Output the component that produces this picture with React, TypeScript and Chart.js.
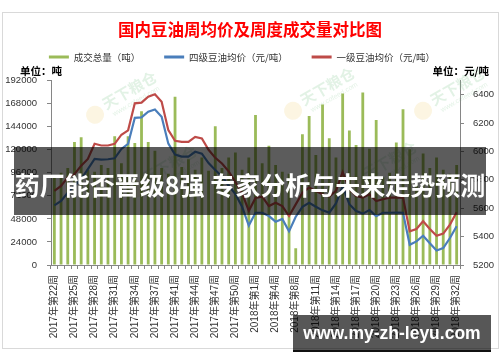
import React, { useEffect, useRef } from 'react';
import { Chart, registerables } from 'chart.js';

Chart.register(...registerables);

const weeks2017 = [22, 23, 24, 25, 26, 27, 28, 29, 30, 31, 32, 33, 34, 35, 36, 37, 38, 39, 41, 42, 43, 44, 45, 46, 47, 48, 49, 50, 51, 52];
const weeks2018 = [1, 2, 3, 4, 5, 6, 8, 9, 10, 11, 12, 13, 14, 15, 16, 17, 18, 19, 20, 21, 22, 23, 24, 25, 26, 27, 28, 29, 30, 31, 32];

const categories = [
  ...weeks2017.map((w) => `2017年第${w}周`),
  ...weeks2018.map((w) => `2018年第${w}周`),
];

// 成交总量（吨）
const volume = [
  92000, 96000, 101000, 128000, 133000, 99000, 97000, 104000, 101000, 134000,
  106000, 134000, 127000, 160000, 128000, 119000, 101000, 95000, 175000, 102000,
  110000, 99000, 112000, 98000, 144500, 101000, 112000, 117000, 99000, 112000,
  156000, 106000, 124000, 104000, 97000, 95000, 17500, 136000, 155000, 114400,
  167000, 132000, 112000, 178500, 140000, 125000, 179500, 121000, 151000, 91000,
  96000, 127500, 162000, 120500, 95000, 116000, 101000, 112000, 99000, 95000,
  104000,
];

// 四级豆油均价（元/吨）
const grade4 = [
  5620, 5651, 5710, 5757, 5805, 5876, 5947, 5942, 5945, 5952,
  6018, 6054, 6237, 6240, 6280, 6296, 6245, 6055, 5978, 5964,
  5964, 5998, 5985, 5918, 5869, 5823, 5760, 5700, 5610, 5478,
  5568, 5568, 5545, 5505, 5525, 5437, 5540, 5610, 5638, 5610,
  5585, 5569, 5634, 5755, 5628, 5580, 5562, 5587, 5544, 5568,
  5568, 5570, 5568, 5342, 5366, 5406, 5354, 5302, 5319, 5390,
  5473,
];

// 一级豆油均价（元/吨）
const grade1 = [
  5722, 5757, 5817, 5840, 5900, 5947, 6054, 6042, 6042, 6054,
  6118, 6149, 6339, 6344, 6386, 6403, 6350, 6150, 6075, 6067,
  6067, 6103, 6091, 6012, 5955, 5915, 5860, 5785, 5705, 5582,
  5673, 5682, 5615, 5639, 5615, 5545, 5627, 5710, 5746, 5722,
  5698, 5682, 5722, 5854, 5734, 5686, 5675, 5698, 5651, 5663,
  5675, 5675, 5675, 5437, 5454, 5508, 5454, 5406, 5421, 5485,
  5572,
];

const seriesNames = ['成交总量（吨）', '四级豆油均价（元/吨）', '一级豆油均价（元/吨）'];
const seriesColors = ['#9BBB59', '#4A7EBB', '#BE4B48'];
const titleText = '国内豆油周均价及周度成交量对比图';
const leftUnit = '单位：吨';
const rightUnit = '单位：元/吨';
const bannerText = '药厂能否晋级8强 专家分析与未来走势预测';
const footerText = 'www.my-zh-leyu.com';

const tickFont = '"Liberation Sans", "Noto Sans CJK SC", sans-serif';
const cjkFont = '"Noto Sans CJK SC", "Liberation Sans", sans-serif';

const decorPlugin = {
  id: 'decor',
  afterLayout(chart: any) {
    const lg = chart.legend;
    if (lg) {
      lg.left -= 8;
      lg.right -= 8;
    }
  },
  beforeDatasetsDraw(chart: any) {
    const ctx = chart.ctx;
    const marks = [
      [120, 98],
      [318, 94],
      [448, 94],
      [160, 172],
      [380, 168],
    ];
    ctx.save();
    for (const [x, y] of marks) {
      ctx.save();
      ctx.translate(x, y);
      ctx.rotate(-Math.PI / 6);
      ctx.globalAlpha = 0.22;
      ctx.fillStyle = '#F2D27A';
      ctx.beginPath();
      ctx.arc(-30, 2, 9, 0, Math.PI * 2);
      ctx.fill();
      ctx.fillStyle = '#7CC58A';
      ctx.font = `bold 15px ${cjkFont}`;
      ctx.textAlign = 'left';
      ctx.textBaseline = 'middle';
      ctx.fillText('天下粮仓', -18, -2);
      ctx.font = `7px ${tickFont}`;
      ctx.fillText('www.cofeed.com', -14, 11);
      ctx.restore();
    }
    ctx.restore();
  },
  afterDraw(chart: any) {
    const ctx = chart.ctx;
    ctx.save();
    ctx.fillStyle = '#000';
    ctx.font = `bold 10.5px ${cjkFont}`;
    ctx.textBaseline = 'middle';
    ctx.textAlign = 'left';
    ctx.fillText(leftUnit, 20, 71);
    ctx.textAlign = 'right';
    ctx.fillText(rightUnit, 489, 71);
    ctx.restore();
  },
};

function ChartCanvas() {
  const ref = useRef<HTMLCanvasElement | null>(null);

  useEffect(() => {
    if (!ref.current) return;
    const chart = new Chart(ref.current, {
      type: 'bar',
      data: {
        labels: categories,
        datasets: [
          {
            type: 'bar',
            label: seriesNames[0],
            data: volume,
            yAxisID: 'y',
            backgroundColor: seriesColors[0],
            borderWidth: 0,
            categoryPercentage: 1,
            barPercentage: 0.42,
            order: 2,
          } as any,
          {
            type: 'line',
            label: seriesNames[1],
            data: grade4,
            yAxisID: 'y1',
            borderColor: seriesColors[1],
            backgroundColor: seriesColors[1],
            borderWidth: 2.2,
            pointRadius: 0,
            tension: 0,
            order: 1,
          } as any,
          {
            type: 'line',
            label: seriesNames[2],
            data: grade1,
            yAxisID: 'y1',
            borderColor: seriesColors[2],
            backgroundColor: seriesColors[2],
            borderWidth: 2.2,
            pointRadius: 0,
            tension: 0,
            order: 0,
          } as any,
        ],
      },
      options: {
        animation: false,
        responsive: false,
        maintainAspectRatio: false,
        layout: { padding: { top: 12, left: 0, right: 0, bottom: 0 } },
        plugins: {
          tooltip: { enabled: false },
          title: {
            display: true,
            text: titleText,
            color: '#FF0000',
            font: { family: cjkFont, size: 16.5, weight: 'bold', lineHeight: 1.2 },
            padding: { top: 8, bottom: -11.5 },
          },
          subtitle: {
            display: true,
            text: ' ',
            weight: 500,
            font: { size: 1, lineHeight: 1 },
            padding: { top: 0, bottom: 7.7 },
          } as any,
          legend: {
            display: true,
            position: 'top',
            labels: {
              boxWidth: 20,
              boxHeight: 3,
              padding: 24,
              color: '#333',
              font: { family: cjkFont, size: 9.5 },
              generateLabels: () =>
                seriesNames.map((name, i) => ({
                  text: name,
                  fillStyle: seriesColors[i],
                  strokeStyle: seriesColors[i],
                  lineWidth: 0,
                  hidden: false,
                  datasetIndex: i,
                  fontColor: '#333',
                })),
            },
          },
        },
        scales: {
          x: {
            offset: true,
            grid: {
              offset: true,
              drawOnChartArea: false,
              tickLength: 4,
              color: '#868686',
            },
            border: { display: true, color: '#868686' },
            ticks: {
              autoSkip: false,
              maxRotation: 90,
              minRotation: 90,
              padding: 6,
              color: '#333',
              font: { family: tickFont, size: 10 },
              callback: (_v: any, i: number) => (i % 3 === 0 ? categories[i] : ''),
            },
            afterFit: (s: any) => {
              s.height = 97;
            },
          },
          y: {
            position: 'left',
            min: 0,
            max: 192000,
            grid: { drawOnChartArea: false, tickLength: 4, color: '#868686' },
            border: { display: true, color: '#868686' },
            ticks: {
              stepSize: 24000,
              padding: 10,
              color: '#333',
              font: { family: tickFont, size: 9.5 },
              callback: (v: any) => String(v),
            },
            afterFit: (s: any) => {
              s.width = 51;
            },
          },
          y1: {
            position: 'right',
            min: 5200,
            max: 6500,
            grid: { drawOnChartArea: false, tickLength: 4, color: '#868686' },
            border: { display: true, color: '#868686' },
            ticks: {
              stepSize: 200,
              padding: 9,
              color: '#333',
              font: { family: tickFont, size: 9.5 },
              callback: (v: any) => String(v),
            },
            afterBuildTicks: (s: any) => {
              s.ticks = s.ticks.filter((t: any) => t.value <= 6400);
            },
            afterFit: (s: any) => {
              s.width = 40;
            },
          },
        },
      },
      plugins: [decorPlugin],
    } as any);
    return () => chart.destroy();
  }, []);

  return <canvas ref={ref} width={500} height={362} style={{ position: 'absolute', left: 0, top: 0, width: 500, height: 362 }} />;
}

export default function App() {
  return (
    <div style={{ position: 'fixed', left: 0, top: 0, width: 500, height: 362, background: '#fff', overflow: 'hidden' }}>
      <ChartCanvas />
      <div
        style={{
          position: 'absolute',
          left: 2,
          top: 12,
          width: 497,
          height: 337,
          border: '1px solid #D9D9D9',
          boxSizing: 'border-box',
          pointerEvents: 'none',
        }}
      />
      <div
        style={{
          position: 'absolute',
          left: 14,
          top: 147,
          width: 472,
          height: 68,
          background: 'rgba(0,0,0,0.64)',
          color: '#fff',
          fontFamily: cjkFont,
          fontWeight: 'bold',
          fontSize: 25,
          lineHeight: '62px',
          textAlign: 'center',
          whiteSpace: 'nowrap',
          paddingTop: 6,
          boxSizing: 'border-box',
        }}
      >
        {bannerText}
      </div>
      <div
        style={{
          position: 'absolute',
          left: 293,
          top: 315,
          width: 198,
          height: 37,
          background: 'rgba(0,0,0,0.66)',
          borderBottom: '2px solid #111',
          boxSizing: 'border-box',
          color: '#fff',
          fontFamily: '"Liberation Sans", Arial, sans-serif',
          fontWeight: 'bold',
          fontSize: 17.5,
          lineHeight: '37px',
          textAlign: 'center',
          whiteSpace: 'nowrap',
        }}
      >
        {footerText}
      </div>
    </div>
  );
}
